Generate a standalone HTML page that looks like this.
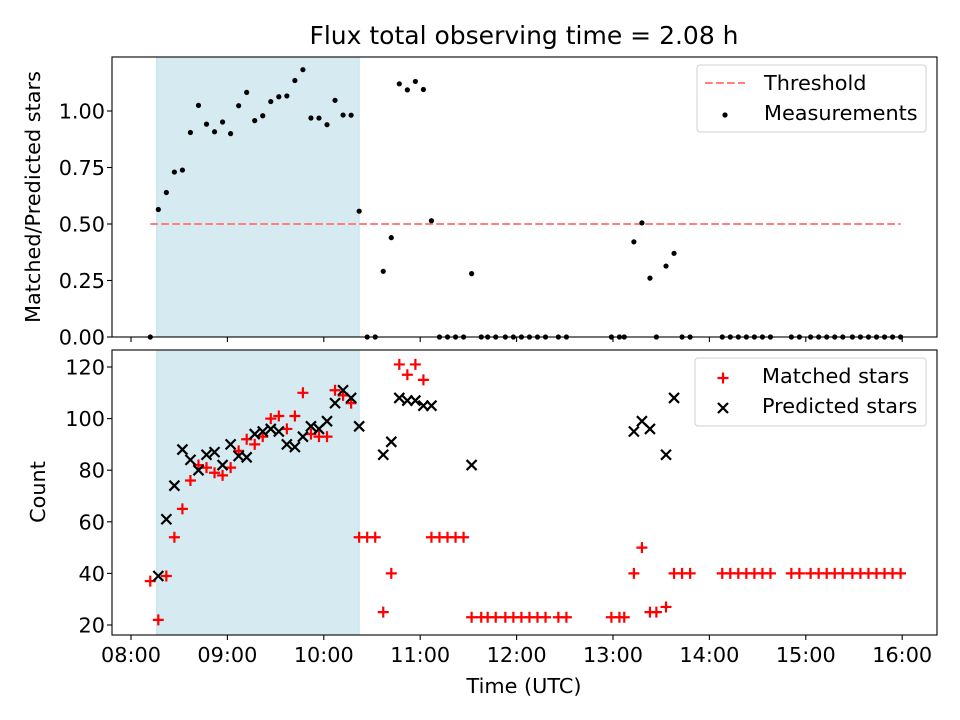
<!DOCTYPE html>
<html><head><meta charset="utf-8"><style>
body{margin:0;background:#fff;}
svg{display:block;font-family:"DejaVu Sans","Liberation Sans",sans-serif;}
</style></head><body>
<svg id="fig" width="960" height="720" viewBox="0 0 960 720">
<text x="524" y="44" font-size="25" text-anchor="middle">Flux total observing time = 2.08 h</text>
<g id="gtop"></g>
<g id="gbot"></g>
<text transform="translate(40,197) rotate(-90)" font-size="20.8" text-anchor="middle">Matched/Predicted stars</text>
<text transform="translate(45,492) rotate(-90)" font-size="20.8" text-anchor="middle">Count</text>
<text x="524" y="693" font-size="20.8" text-anchor="middle">Time (UTC)</text>
</svg>
<script>
// minutes after 08:00
const times=[12,17,22,27,32,37,42,47,52,57,62,67,72,77,82,87,92,97,102,107,112,117,122,127,132,137,142,
147,152,157,162,167,172,177,182,187,192,197,202,207,212,
218,222,227,233,238,243,248,253,258,266,271,
299,304,307,
313,318,323,327,333,338,343,348,
368,373,378,383,388,393,398,
411,416,423,428,433,438,443,449,454,459,464,469,474,479];
const matched=[37,22,39,54,65,76,82,81,79,78,81,87.5,92,90,93,100,101,96,101,110,94,93,93,111,109,106,54,
54,54,25,40,121,117,121,115,54,54,54,54,54,23,
23,23,23,23,23,23,23,23,23,23,23,
23,23,23,
40,50,25,25,27,40,40,40,
40,40,40,40,40,40,40,
40,40,40,40,40,40,40,40,40,40,40,40,40,40];
const predicted=[null,39,61,74,88,84,80,86,87,82,90,85.5,85,94,95,96,95,90,89,93,97,96,99,106,111,108,97,
null,null,86,91,108,107,107,105,105,null,null,null,null,82,
null,null,null,null,null,null,null,null,null,null,null,
null,null,null,
95,99,96,null,86,108,null,null,
null,null,null,null,null,null,null,
null,null,null,null,null,null,null,null,null,null,null,null,null,null];
const ratio=matched.map((m,i)=>predicted[i]?m/predicted[i]:0);
const threshold=0.5;
const shadeStart=16, shadeEnd=142;
const xTickLabels=["08:00","09:00","10:00","11:00","12:00","13:00","14:00","15:00","16:00"];
const ratioTicks=[0,0.25,0.5,0.75,1.0];
const countTicks=[20,40,60,80,100,120];

const NS="http://www.w3.org/2000/svg";
const L=112,R=937,FS=20.8;
const X=t=>131+t*96.4/60;
const yTop=v=>337-v*226;
const yBot=v=>625-(v-20)*2.58;
function mk(tag,attrs,parent){const e=document.createElementNS(NS,tag);for(const k in attrs)e.setAttribute(k,attrs[k]);parent.appendChild(e);return e;}

function panel(g,T,B,yf,ticks,fmt,name){
  const sh=mk('rect',{x:X(shadeStart),y:T,width:X(shadeEnd)-X(shadeStart),height:B-T,fill:'#d5ebf1',stroke:'#bfe0ea','stroke-width':1},g);
  
  
  xTickLabels.forEach((lab,i)=>{
    const x=X(i*60);
    const tk=mk('line',{x1:x,x2:x,y1:B,y2:B+5,stroke:'#000','stroke-width':1.1},g);
    
    
    if(name==='count'){
      const t=mk('text',{x:x,y:B+27,'font-size':FS,'text-anchor':'middle'},g);t.textContent=lab;
      
      
    }
  });
  ticks.forEach(v=>{
    const y=yf(v);
    const tk=mk('line',{x1:L-5,x2:L,y1:y,y2:y,stroke:'#000','stroke-width':1.1},g);
    
    
    const t=mk('text',{x:L-7,y:y+7.5,'font-size':FS,'text-anchor':'end'},g);t.textContent=fmt(v);
    
    
  });
}
const gTop=document.getElementById('gtop'), gBot=document.getElementById('gbot');
panel(gTop,57,337,yTop,ratioTicks,v=>v.toFixed(2),'ratio');
panel(gBot,350,635,yBot,countTicks,v=>String(v),'count');

const th=mk('line',{x1:X(times[0]),x2:X(times[times.length-1]),y1:yTop(threshold),y2:yTop(threshold),stroke:'#ff7f7f','stroke-width':2,'stroke-dasharray':'7.7,3.3'},gTop);


times.forEach((t,i)=>{
  const c=mk('circle',{cx:X(t),cy:yTop(ratio[i]),r:2.6,fill:'#000'},gTop);
  
  
});
times.forEach((t,i)=>{
  if(matched[i]==null)return;
  const x=X(t),y=yBot(matched[i]),s=5.5;
  const p=mk('path',{d:`M${x-s},${y}H${x+s}M${x},${y-s}V${y+s}`,stroke:'#f00','stroke-width':2.2,fill:'none'},gBot);
  
  
});
times.forEach((t,i)=>{
  if(predicted[i]==null)return;
  const x=X(t),y=yBot(predicted[i]),s=5;
  const p=mk('path',{d:`M${x-s},${y-s}L${x+s},${y+s}M${x-s},${y+s}L${x+s},${y-s}`,stroke:'#000','stroke-width':2.2,fill:'none'},gBot);
  
  
});
[[gTop,57,337,'ratio'],[gBot,350,635,'count']].forEach(([g,T,B,n])=>{
  const f=mk('rect',{x:L,y:T,width:R-L,height:B-T,fill:'none',stroke:'#000','stroke-width':1.1},g);
  
  
});
function legend(g,x,y,w,h,items,name){
  const lg=mk('g',{},g);
  
  
  mk('rect',{x:x,y:y,width:w,height:h,rx:3,fill:'rgba(255,255,255,0.8)',stroke:'#d0d0d0','stroke-width':1},lg);
  items.forEach((it,i)=>{
    const cy=y+18+i*30;
    const e=mk('g',{},lg);
    
    
    it.draw(e,x+28,cy);
    const t=mk('text',{x:x+67,y:cy+7,'font-size':FS},e);t.textContent=it.label;
  });
}
legend(gTop,697,65,229,67,[
 {label:'Threshold',draw:(e,cx,cy)=>mk('line',{x1:cx-20,x2:cx+20,y1:cy,y2:cy,stroke:'#ff7f7f','stroke-width':2,'stroke-dasharray':'7.7,3.3'},e)},
 {label:'Measurements',draw:(e,cx,cy)=>mk('circle',{cx:cx,cy:cy+2,r:2.6,fill:'#000'},e)}
],'ratio-legend');
legend(gBot,695,358,231,68,[
 {label:'Matched stars',draw:(e,cx,cy)=>mk('path',{d:`M${cx-5.5},${cy+2}H${cx+5.5}M${cx},${cy-3.5}V${cy+7.5}`,stroke:'#f00','stroke-width':2.2},e)},
 {label:'Predicted stars',draw:(e,cx,cy)=>mk('path',{d:`M${cx-5},${cy-3}L${cx+5},${cy+7}M${cx-5},${cy+7}L${cx+5},${cy-3}`,stroke:'#000','stroke-width':2.2},e)}
],'count-legend');
</script>
</body></html>
